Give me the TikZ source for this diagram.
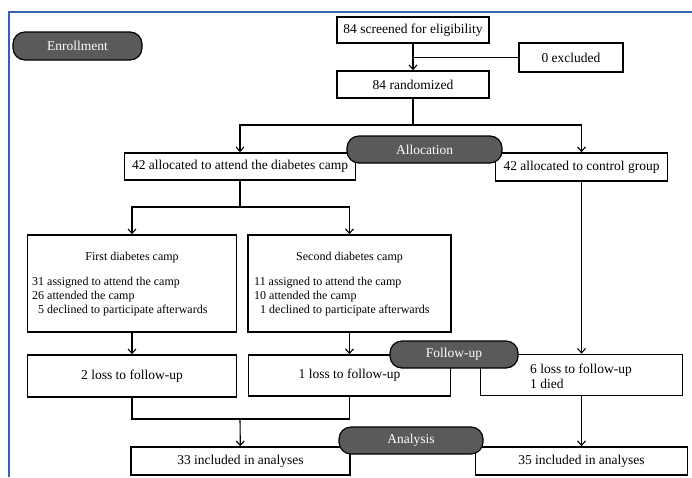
\documentclass[tikz,border=0pt]{standalone}
\usepackage{fontspec}
\setmainfont{Liberation Serif}
\usetikzlibrary{arrows.meta}
\definecolor{pillgray}{RGB}{90,90,90}
\definecolor{framecol}{RGB}{55,95,180}
\tikzset{
  box/.style={draw=black, line width=1.6pt, fill=white, inner sep=0pt, align=center,
    font=\fontsize{13.5}{15}\selectfont},
  pill/.style={draw=black, line width=1.2pt, fill=pillgray, rounded corners=12pt, inner sep=0pt,
    text=white, font=\fontsize{13.5}{15}\selectfont},
  small/.style={inner sep=0pt, align=left, font=\fontsize{12}{14}\selectfont},
  conn/.style={draw=black, line width=1.1pt},
  arr/.style={conn, -{Straight Barb[length=4.5pt,width=8pt,line width=1.1pt]}},
}
\begin{document}
\begin{tikzpicture}[x=1pt,y=-1pt]
\useasboundingbox (0,0) rectangle (692,477);
\fill[white] (0,0) rectangle (692,477);
\draw[framecol, line width=1.5pt] (9,477) -- (9,12) -- (692,12);

% boxes
\node[box, minimum width=152pt, minimum height=26pt] (scr) at (413,30) {84 screened for eligibility};
\node[box, minimum width=104pt, minimum height=29pt] (excl) at (571,57.5) {0 excluded};
\node[box, minimum width=152pt, minimum height=27pt] (rand) at (413,84.5) {84 randomized};
\node[box, minimum width=231pt, minimum height=27pt] (camp) at (240,166.5) {42 allocated to attend the diabetes camp};
\node[box, minimum width=172pt, minimum height=28pt] (ctrl) at (581.5,167) {42 allocated to control group};
\node[box, minimum width=209pt, minimum height=97pt] (first) at (132,283.5) {};
\node[box, minimum width=203pt, minimum height=97pt] (second) at (349.5,283.5) {};
\node[box, minimum width=209pt, minimum height=42pt] (loss2) at (132,376) {2 loss to follow-up};
\node[box, minimum width=202pt, minimum height=41pt] (loss1) at (349.5,375.5) {1 loss to follow-up};
\node[box, minimum width=202pt, minimum height=41pt] (loss6) at (581.5,375) {};
\node[box, minimum width=219pt, minimum height=28pt] (inc33) at (240.5,461) {33 included in analyses};
\node[box, minimum width=212pt, minimum height=28pt] (inc35) at (581.5,461) {35 included in analyses};

% texts inside boxes
\node[small, align=center] (firstT) at (132,258) {First diabetes camp};
\node[small, anchor=west] (firstL) at (32,297) {31 assigned to attend the camp\\26 attended the camp\\\hphantom{0}5 declined to participate afterwards};
\node[small, align=center] (secondT) at (349.5,258) {Second diabetes camp};
\node[small, anchor=west] (secondL) at (254,297) {11 assigned to attend the camp\\10 attended the camp\\\hphantom{0}1 declined to participate afterwards};
\node[inner sep=0pt, anchor=west, align=left, font=\fontsize{13.5}{15}\selectfont] (loss6T) at (530,376) {6 loss to follow-up\\1 died};

% junctions
\coordinate (j1) at (413,125);
\coordinate (j2) at (240,207);
\coordinate (j3) at (240,419);

% connectors
\draw[arr] (scr) -- (rand);
\draw[conn] (excl.west) -- (scr.south |- excl.west);
\draw[conn] (rand) -- (j1);
\draw[arr] (j1) -| (camp);
\draw[arr] (j1) -| (ctrl);
\draw[conn] (camp) -- (j2);
\draw[arr] (j2) -| (first);
\draw[arr] (j2) -| (second);
\draw[arr] (first) -- (loss2);
\draw[arr] (second) -- (loss1);
\draw[arr] (ctrl) -- (loss6);
\draw[conn] (loss2.south) |- (j3);
\draw[conn] (loss1.south) |- (j3);
\draw[arr] (j3) -- (inc33);
\draw[arr] (loss6) -- (inc35);

% phase pills
\node[pill, minimum width=129pt, minimum height=28pt] (enroll) at (77.5,46) {Enrollment};
\node[pill, minimum width=155pt, minimum height=27pt] (alloc) at (424.5,149.5) {Allocation};
\node[pill, minimum width=128pt, minimum height=27pt] (follow) at (454,354.5) {Follow-up};
\node[pill, minimum width=144pt, minimum height=27pt] (analysis) at (411,440.5) {Analysis};
\end{tikzpicture}
\end{document}
